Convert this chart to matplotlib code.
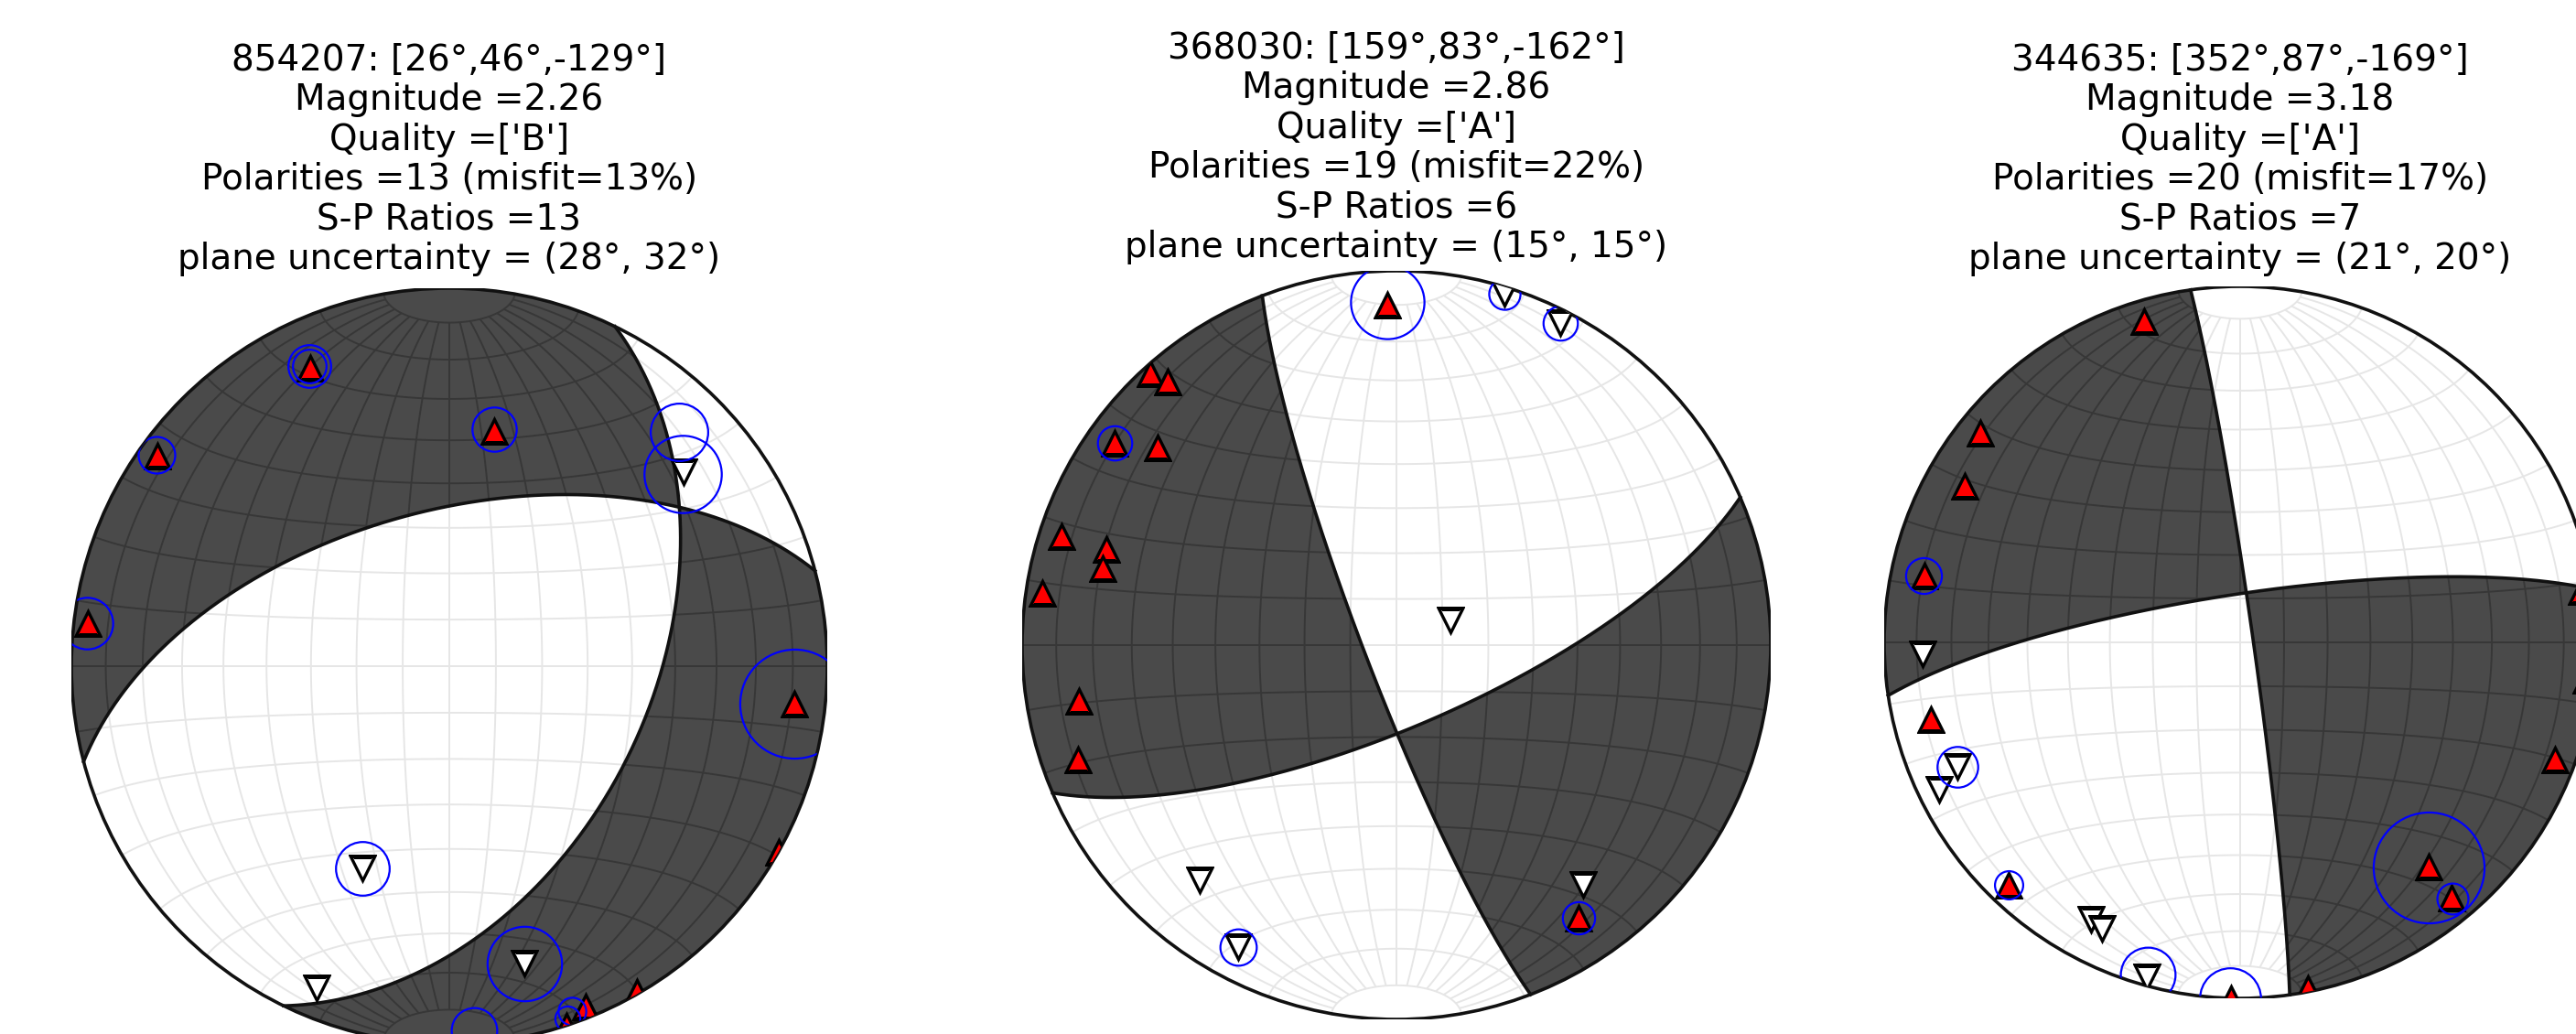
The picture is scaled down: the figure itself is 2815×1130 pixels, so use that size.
import numpy as np
import matplotlib.pyplot as plt
from matplotlib.patches import Circle
from matplotlib.collections import LineCollection

# ---------------- event info ----------------
event_ids = ['854207', '368030', '344635']
strikes = [26, 159, 352]
dips = [46, 83, 87]
rakes = [-129, -162, -169]
magnitudes = [2.26, 2.86, 3.18]
qualities = ['B', 'A', 'A']
n_polarities = [13, 19, 20]
misfits = [13, 22, 17]
n_sp_ratios = [13, 6, 7]
plane_unc = [(28, 32), (15, 15), (21, 20)]

# ---------------- polarities: azimuth, takeoff (deg from down), +1 up / -1 down ----------------
pol1_az = [335.0, 10.7, 305.8, 276.8, 96.2, 119.4, 150.0, 158.2, 162.0,
           50.4, 203.3, 202.4, 165.9]
pol1_toa = [76.1, 53.3, 84.8, 85.9, 80.9, 90.0, 89.4, 86.7, 90.0,
            69.3, 48.6, 81.3, 70.1]
pol1_sign = [1, 1, 1, 1, 1, 1, 1, 1, 1, -1, -1, -1, -1]

pol2_az = [358.4, 317.9, 319.0, 305.7, 309.7, 288.0, 288.4, 284.7, 278.4, 260.1, 250.2, 146.2,
           17.1, 26.9, 65.7, 219.9, 207.7, 142.1]
pol2_toa = [80.1, 87.7, 82.6, 82.0, 71.7, 83.3, 70.5, 70.1, 85.0, 75.0, 79.6, 76.5,
            88.1, 86.2, 12.9, 70.7, 80.2, 70.0]
pol2_sign = [1] * 12 + [-1] * 6

pol3_az = [343.3, 308.9, 299.6, 282.0, 256.0, 223.7, 140.0, 140.4, 110.4, 168.9, 181.5, 81.4, 96.2,
           267.9, 246.2, 243.9, 208.3, 205.7, 195.6]
pol3_toa = [83.4, 83.2, 78.1, 79.7, 78.6, 83.4, 71.2, 82.5, 83.6, 89.0, 90.0, 86.6, 87.3,
            78.4, 75.8, 83.6, 77.3, 78.3, 87.4]
pol3_sign = [1] * 13 + [-1] * 6

# ---------------- S/P ratio circles: azimuth, takeoff, size (pt) ----------------
sp1_az = [335.0, 335.0, 10.7, 305.8, 276.8, 96.2, 160.4, 161.5, 50.6, 44.5, 203.3, 165.9, 176.1]
sp1_toa = [76.5, 76.5, 53.6, 85.0, 86.0, 80.9, 86.5, 88.0, 68.9, 75.8, 48.6, 70.1, 86.1]
sp1_size = [16.8, 13.2, 17.4, 14.4, 20.3, 42.9, 10.9, 9.8, 30.4, 22.6, 21.1, 29.3, 17.9]

sp2_az = [358.4, 305.7, 146.2, 17.1, 26.9, 207.7]
sp2_toa = [80.8, 82.0, 76.5, 88.1, 86.2, 80.2]
sp2_size = [28.9, 13.5, 12.7, 12.3, 13.5, 14.3]

sp3_az = [282.0, 223.7, 140.0, 140.4, 181.6, 246.2, 195.6]
sp3_toa = [79.9, 83.6, 71.4, 82.7, 90.0, 75.6, 86.6]
sp3_size = [14.1, 11.1, 43.6, 12.2, 24.0, 16.0, 21.5]

pol_az = [pol1_az, pol2_az, pol3_az]
pol_toa = [pol1_toa, pol2_toa, pol3_toa]
pol_sign = [pol1_sign, pol2_sign, pol3_sign]
sp_az = [sp1_az, sp2_az, sp3_az]
sp_toa = [sp1_toa, sp2_toa, sp3_toa]
sp_size = [sp1_size, sp2_size, sp3_size]


def project(az, toa):
    # lower hemisphere equal area, unit primitive
    az = np.radians(az)
    toa = np.radians(toa)
    r = np.sqrt(2) * np.sin(toa / 2)
    return r * np.sin(az), r * np.cos(az)


def lambert(lon, lat):
    lon = np.radians(lon)
    lat = np.radians(lat)
    k = np.sqrt(1 / (1 + np.cos(lat) * np.cos(lon)))
    return k * np.cos(lat) * np.sin(lon), k * np.sin(lat)


def fault_vectors(s, d, r):
    s, d, r = np.radians([s, d, r])
    n = np.array([-np.sin(d) * np.sin(s), np.sin(d) * np.cos(s), -np.cos(d)])
    sl = np.array([np.cos(r) * np.cos(s) + np.cos(d) * np.sin(r) * np.sin(s),
                   np.cos(r) * np.sin(s) - np.cos(d) * np.sin(r) * np.cos(s),
                   -np.sin(r) * np.sin(d)])
    return n, sl


def plane_curve(normal):
    # great circle of the plane with given normal (N, E, D), lower hemisphere
    down = np.array([0, 0, 1.0])
    e1 = np.cross(normal, down)
    e1 /= np.linalg.norm(e1)
    e2 = np.cross(normal, e1)
    e2 /= np.linalg.norm(e2)
    if e2[2] < 0:
        e2 = -e2
    t = np.linspace(0, np.pi, 400)
    v = np.outer(np.cos(t), e1) + np.outer(np.sin(t), e2)
    toa = np.degrees(np.arccos(np.clip(v[:, 2], -1, 1)))
    az = np.degrees(np.arctan2(v[:, 1], v[:, 0]))
    return project(az, toa)


def grid_segments():
    segs = []
    lat = np.linspace(-80, 80, 200)
    for lon in range(-80, 90, 10):
        segs.append(np.column_stack(lambert(np.full_like(lat, lon), lat)))
    lon = np.linspace(-90, 90, 200)
    for la in range(-80, 90, 10):
        segs.append(np.column_stack(lambert(lon, np.full_like(lon, la))))
    return segs


W, H = 2815, 1130
fig = plt.figure(figsize=(W / 200, H / 200), dpi=200)

# (center x, center y, radius, title bottom) in pixels
layout = [(491, 728, 413, 302), (1526, 705, 409, 289), (2448, 702, 389, 302)]

segs = grid_segments()
g = np.linspace(-1.06, 1.06, 900)
xx, yy = np.meshgrid(g, g)
rr = np.clip(np.hypot(xx, yy), 0, 1.4)
tt = 2 * np.arcsin(rr / np.sqrt(2))
aa = np.arctan2(xx, yy)
ray = np.stack([np.sin(tt) * np.cos(aa), np.sin(tt) * np.sin(aa), np.cos(tt)])

for i in range(3):
    cx, cy, R, tb = layout[i]
    ax = fig.add_axes([(cx - R) / W, (H - cy - R) / H, 2 * R / W, 2 * R / H])
    ax.set_xlim(-1, 1)
    ax.set_ylim(-1, 1)
    ax.set_axis_off()

    prim = Circle((0, 0), 1, facecolor='none', edgecolor='#111111', lw=1.3, zorder=6)
    ax.add_patch(prim)

    ax.add_collection(LineCollection(segs, colors='#e6e6e6', linewidths=0.7, zorder=1))

    n, sl = fault_vectors(strikes[i], dips[i], rakes[i])
    val = np.tensordot(n, ray, axes=1) * np.tensordot(sl, ray, axes=1)
    cs = ax.contourf(xx, yy, val, levels=[0, 10], colors=['#4a4a4a'], zorder=2)
    cs.set_clip_path(prim)

    dark = LineCollection(segs, colors='#373737', linewidths=0.7, zorder=3)
    ax.add_collection(dark)
    dark.set_clip_path(cs.get_paths()[0], ax.transData)

    for nv in (n, sl):
        px, py = plane_curve(nv)
        ax.plot(px, py, color='#111111', lw=1.3, zorder=5)

    az = np.array(pol_az[i])
    toa = np.array(pol_toa[i])
    sg = np.array(pol_sign[i])
    x, y = project(az[sg > 0], toa[sg > 0])
    ln, = ax.plot(x, y, '^', ms=9.5, mfc='red', mec='black', mew=1.2, zorder=7)
    ln.set_clip_path(prim)
    x, y = project(az[sg < 0], toa[sg < 0])
    ln, = ax.plot(x, y, 'v', ms=9.5, mfc='white', mec='black', mew=1.2, zorder=7)
    ln.set_clip_path(prim)

    for a, t, s in zip(sp_az[i], sp_toa[i], sp_size[i]):
        x, y = project(a, t)
        ln, = ax.plot([x], [y], 'o', ms=s, mfc='none', mec='blue', mew=0.8, zorder=8)
        ln.set_clip_path(prim)

    title = "{}: [{}°,{}°,{}°]\nMagnitude ={}\nQuality =['{}']\nPolarities ={} (misfit={}%)\nS-P Ratios ={}\nplane uncertainty = ({}°, {}°)".format(
        event_ids[i], strikes[i], dips[i], rakes[i], magnitudes[i], qualities[i],
        n_polarities[i], misfits[i], n_sp_ratios[i], plane_unc[i][0], plane_unc[i][1])
    fig.text(cx / W, 1 - tb / H, title, ha='center', va='bottom', fontsize=14,
             linespacing=1.18, multialignment='center')

fig.savefig('out.png', dpi=200)
